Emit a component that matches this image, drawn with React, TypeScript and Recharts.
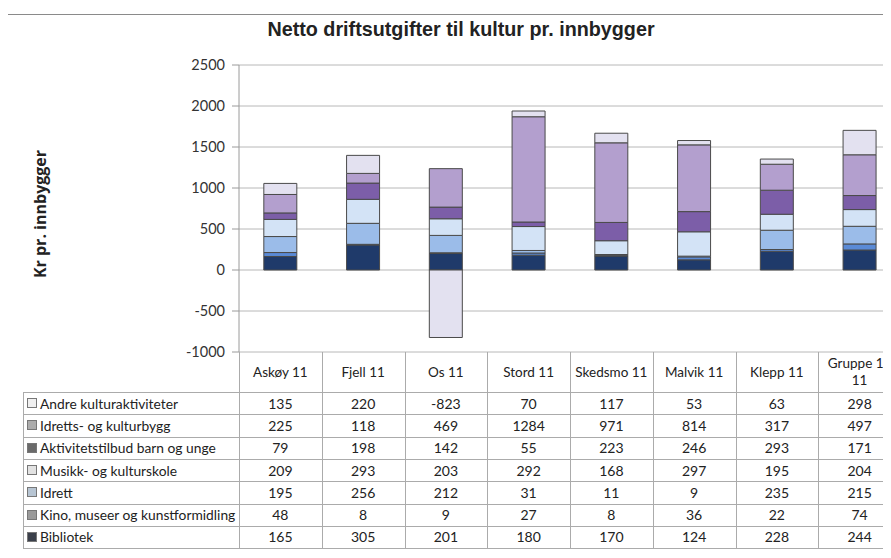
import React from 'react';
import { Bar, BarChart, CartesianGrid, XAxis, YAxis } from 'recharts';

const categories = ['Askøy 11', 'Fjell 11', 'Os 11', 'Stord 11', 'Skedsmo 11', 'Malvik 11', 'Klepp 11', 'Gruppe 13 11'];

const bibliotek = [165, 305, 201, 180, 170, 124, 228, 244];
const kino = [48, 8, 9, 27, 8, 36, 22, 74];
const idrett = [195, 256, 212, 31, 11, 9, 235, 215];
const musikk = [209, 293, 203, 292, 168, 297, 195, 204];
const aktivitet = [79, 198, 142, 55, 223, 246, 293, 171];
const idrettsbygg = [225, 118, 469, 1284, 971, 814, 317, 497];
const andre = [135, 220, -823, 70, 117, 53, 63, 298];

const yTicks = [-1000, -500, 0, 500, 1000, 1500, 2000, 2500];

// stacking order bottom -> top
const series = [
  { key: 'bibliotek', name: 'Bibliotek', values: bibliotek, fill: '#1f3a6a', legend: '#3a3f4a' },
  { key: 'kino', name: 'Kino, museer og kunstformidling', values: kino, fill: '#5a8ad6', legend: '#9a9a9a' },
  { key: 'idrett', name: 'Idrett', values: idrett, fill: '#9bbce9', legend: '#b7c5d3' },
  { key: 'musikk', name: 'Musikk- og kulturskole', values: musikk, fill: '#d3e3f6', legend: '#e2e2e2' },
  { key: 'aktivitet', name: 'Aktivitetstilbud barn og unge', values: aktivitet, fill: '#7c5ea8', legend: '#6a6a6a' },
  { key: 'idrettsbygg', name: 'Idretts- og kulturbygg', values: idrettsbygg, fill: '#b39fce', legend: '#acacac' },
  { key: 'andre', name: 'Andre kulturaktiviteter', values: andre, fill: '#e3e1f0', legend: '#f0f0f0' },
];

const data = categories.map((name, i) => {
  const row: any = { name };
  series.forEach((s) => {
    row[s.key] = s.values[i];
  });
  return row;
});

const FONT = 'Lato, "Open Sans", sans-serif';
const PLOT_LEFT = 239;
const PLOT_TOP = 65;
const PLOT_BOTTOM = 352;
const COL_W = 82.75;
const TABLE_LEFT = 23;
const HEADER_BOTTOM = 392;
const ROW_H = 22.3;
const LINE = '#ababab';

const App: React.FC = () => {
  const tableRows = [...series].reverse();
  const tableRight = PLOT_LEFT + COL_W * categories.length;
  const tableBottom = HEADER_BOTTOM + ROW_H * tableRows.length;

  return (
    <div
      style={{
        position: 'relative',
        width: 891,
        height: 558,
        margin: -8,
        overflow: 'hidden',
        background: '#fff',
        fontFamily: FONT,
        color: '#222',
      }}
    >
      <div
        style={{
          position: 'absolute',
          left: 7,
          top: 14,
          width: 1000,
          height: 542,
          border: '1px solid #8a8a8a',
        }}
      />
      <div
        style={{
          position: 'absolute',
          left: 461,
          top: 17,
          transform: 'translateX(-50%) scaleX(0.94)',
          whiteSpace: 'nowrap',
          fontFamily: '"Liberation Sans", Arial, sans-serif',
          fontWeight: 'bold',
          fontSize: 21,
        }}
      >
        Netto driftsutgifter til kultur pr. innbygger
      </div>
      <div
        style={{
          position: 'absolute',
          left: 40,
          top: 214,
          transform: 'translate(-50%, -50%) rotate(-90deg)',
          whiteSpace: 'nowrap',
          fontWeight: 'bold',
          fontSize: 16,
          fontFamily: '"Open Sans", sans-serif',
        }}
      >
        Kr pr. innbygger
      </div>

      <div style={{ position: 'absolute', left: 0, top: 0 }}>
        <BarChart
          width={922}
          height={558}
          data={data}
          stackOffset="sign"
          barCategoryGap="30%"
          margin={{ top: PLOT_TOP, right: 922 - tableRight, left: PLOT_LEFT - 60, bottom: 558 - PLOT_BOTTOM }}
        >
          <CartesianGrid vertical={false} stroke="#b8b8b8" />
          <XAxis dataKey="name" hide />
          <YAxis
            width={60}
            domain={[-1000, 2500]}
            ticks={yTicks}
            interval={0}
            tickSize={7}
            tickMargin={7}
            axisLine={{ stroke: '#9a9a9a' }}
            tickLine={{ stroke: '#9a9a9a' }}
            tick={{ fill: '#333', fontSize: 14.5, fontFamily: FONT }}
          />
          {series.map((s) => (
            <Bar
              key={s.key}
              dataKey={s.key}
              name={s.name}
              stackId="a"
              fill={s.fill}
              stroke="#4a4a4a"
              strokeWidth={1}
              isAnimationActive={false}
            />
          ))}
        </BarChart>
      </div>

      {/* data table */}
      {categories.map((c, i) => (
        <div
          key={'h' + c}
          style={{
            position: 'absolute',
            left: PLOT_LEFT + COL_W * i,
            top: PLOT_BOTTOM,
            width: COL_W,
            height: HEADER_BOTTOM - PLOT_BOTTOM,
            display: 'flex',
            alignItems: 'center',
            justifyContent: 'center',
            textAlign: 'center',
            fontSize: 13.5,
            lineHeight: '17px',
            padding: '0 4px',
            boxSizing: 'border-box',
          }}
        >
          {c}
        </div>
      ))}
      {Array.from({ length: categories.length + 1 }).map((_, i) => (
        <div
          key={'v' + i}
          style={{
            position: 'absolute',
            left: PLOT_LEFT + COL_W * i,
            top: PLOT_BOTTOM,
            width: 1,
            height: tableBottom - PLOT_BOTTOM,
            background: LINE,
          }}
        />
      ))}
      <div style={{ position: 'absolute', left: TABLE_LEFT, top: HEADER_BOTTOM, width: 1, height: tableBottom - HEADER_BOTTOM, background: LINE }} />
      {Array.from({ length: tableRows.length + 1 }).map((_, i) => (
        <div
          key={'r' + i}
          style={{
            position: 'absolute',
            left: TABLE_LEFT,
            top: HEADER_BOTTOM + ROW_H * i,
            width: tableRight - TABLE_LEFT,
            height: 1,
            background: LINE,
          }}
        />
      ))}
      {tableRows.map((s, r) => (
        <React.Fragment key={'row' + s.key}>
          <div
            style={{
              position: 'absolute',
              left: TABLE_LEFT + 4,
              top: HEADER_BOTTOM + ROW_H * r,
              height: ROW_H,
              display: 'flex',
              alignItems: 'center',
              fontSize: 13.8,
              whiteSpace: 'nowrap',
            }}
          >
            <span
              style={{
                display: 'inline-block',
                width: 8,
                height: 8,
                background: s.legend,
                border: '1px solid #777',
                marginRight: 3,
              }}
            />
            {s.name}
          </div>
          {s.values.map((v, i) => (
            <div
              key={i}
              style={{
                position: 'absolute',
                left: PLOT_LEFT + COL_W * i,
                top: HEADER_BOTTOM + ROW_H * r,
                width: COL_W,
                height: ROW_H,
                display: 'flex',
                alignItems: 'center',
                justifyContent: 'center',
                fontSize: 14,
              }}
            >
              {v}
            </div>
          ))}
        </React.Fragment>
      ))}
    </div>
  );
};

export default App;
